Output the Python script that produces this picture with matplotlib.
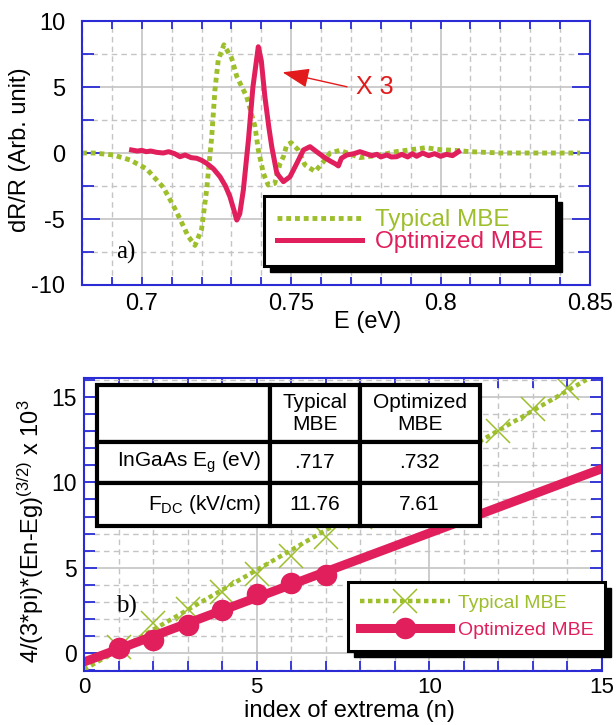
import matplotlib.pyplot as plt
import numpy as np
from matplotlib.patches import Rectangle
from matplotlib.transforms import IdentityTransform
from matplotlib.ticker import MultipleLocator

plt.rcParams['font.family'] = ['Liberation Sans', 'DejaVu Sans']
plt.rcParams['mathtext.fontset'] = 'custom'
plt.rcParams['mathtext.rm'] = 'Liberation Sans'
plt.rcParams['mathtext.it'] = 'Liberation Sans:italic'
plt.rcParams['font.size'] = 17
plt.rcParams['axes.unicode_minus'] = False

green = '#9dbf2c'
red = '#e01f5c'
blue = '#2b2bd6'

# panel a) : photoreflectance spectra
typ_E = [0.680, 0.684, 0.6905, 0.6961, 0.7016, 0.7072, 0.7106, 0.7128, 0.7155, 0.7178,
         0.7200, 0.7217, 0.7234, 0.7245, 0.7256, 0.7275, 0.7301, 0.7318, 0.7351, 0.7379,
         0.7390, 0.7407, 0.7423, 0.7445, 0.7463, 0.7474, 0.7485, 0.7500, 0.7524, 0.7546,
         0.7580, 0.7610, 0.7630, 0.7663, 0.7700, 0.7730, 0.7800, 0.7850, 0.7900, 0.7950,
         0.8000, 0.8050, 0.8100, 0.8200, 0.8300, 0.8400, 0.8467]
typ_R = [0.0, 0.0, -0.15, -0.53, -1.2, -2.6, -4.0, -5.0, -6.3, -7.0,
         -5.8, -2.8, 1.2, 4.8, 7.05, 8.2, 7.17, 5.8, 4.27, 2.0,
         0.23, -1.54, -2.42, -2.3, -0.78, -0.28, 0.6, 0.78, 0.23, -0.9,
         -1.4, -0.6, 0.0, 0.2, -0.1, -0.35, -0.15, 0.1, 0.25, 0.4,
         0.25, 0.2, 0.1, 0.0, 0.0, 0.0, 0.0]

opt_E = [0.6966, 0.6985, 0.7000, 0.7015, 0.7030, 0.7050, 0.7072, 0.7090, 0.7110, 0.7128,
         0.7145, 0.7165, 0.7184, 0.7200, 0.7217, 0.7240, 0.7262, 0.7280, 0.7295, 0.7308,
         0.7318, 0.7328, 0.7340, 0.7357, 0.7372, 0.7390, 0.7400, 0.7412, 0.7425, 0.7435,
         0.7452, 0.7474, 0.7496, 0.7519, 0.7541, 0.7563, 0.7585, 0.7608, 0.7630, 0.7650,
         0.7658, 0.7668, 0.7686, 0.7710, 0.7730, 0.7750, 0.7770, 0.7787, 0.7800, 0.7820,
         0.7835, 0.7853, 0.7870, 0.7890, 0.7905, 0.7920, 0.7940, 0.7960, 0.7980, 0.8000,
         0.8020, 0.8040, 0.8060]
opt_R = [0.23, 0.15, 0.2, 0.1, 0.15, 0.05, 0.0, 0.1, -0.05, -0.28,
         -0.15, -0.35, -0.4, -0.55, -0.78, -1.2, -1.8, -2.5, -3.3, -4.3,
         -5.08, -4.6, -2.8, 1.0, 5.0, 8.05, 7.0, 4.27, 2.0, 0.48,
         -1.54, -2.17, -1.8, -0.78, 0.23, 0.48, 0.1, -0.28, -0.6, -0.85,
         -0.98, -0.4, -0.15, -0.05, 0.1, -0.05, -0.2, -0.1, -0.3, -0.15,
         -0.3, -0.28, -0.1, -0.3, -0.05, -0.25, 0.0, -0.2, -0.05, -0.25,
         -0.1, -0.2, 0.1]

# panel b) : extrema analysis
typ_n = [1, 2, 3, 4, 5, 6, 7, 8, 9, 10, 12, 13, 14]
typ_v = [0.4, 1.75, 2.6, 3.6, 4.65, 5.7, 6.8, 8.0, 9.2, 10.4, 13.0, 14.3, 15.5]
typ_fit_n = [0, 14.55]
typ_fit_v = [-0.95, 16.0]

opt_n = [1, 2, 3, 4, 5, 6, 7]
opt_v = [0.3, 0.8, 1.65, 2.55, 3.45, 4.1, 4.6]
opt_fit_n = [0, 15]
opt_fit_v = [-0.5, 10.8]

table_rows = [['', 'Typical\nMBE', 'Optimized\nMBE'],
              ['InGaAs E$_\\mathregular{g}$ (eV)', '.717', '.732'],
              ['F$_\\mathregular{DC}$ (kV/cm)', '11.76', '7.61']]

fig = plt.figure(figsize=(6.16, 7.25), dpi=100)
ax1 = fig.add_axes([0.1331, 0.6069, 0.8247, 0.3641])
ax2 = fig.add_axes([0.1364, 0.0745, 0.8409, 0.4041])


def style(ax):
    for s in ax.spines.values():
        s.set_color(blue)
        s.set_linewidth(1.5)
    ax.tick_params(which='both', direction='in', top=True, right=True,
                   color=blue, width=1.3)
    ax.grid(which='major', color='#c4c4c4', lw=1.2)
    ax.grid(which='minor', color='#c4c4c4', lw=1.0, ls=(0, (4, 3)))
    ax.set_axisbelow(True)


def shadow(ax, leg, off=6):
    bb = leg.get_frame().get_window_extent()
    r = Rectangle((bb.x0 + off, bb.y0 - off), bb.width, bb.height,
                  transform=IdentityTransform(), color='black',
                  zorder=4.5, clip_on=False)
    ax.add_artist(r)


# ---- a)
style(ax1)
ax1.plot(typ_E, typ_R, color=green, lw=3.5, ls=(0, (1, 0.8)), label='Typical MBE')
ax1.plot(opt_E, opt_R, color=red, lw=3.6, label='Optimized MBE')
ax1.set_xlim(0.68, 0.85)
ax1.set_ylim(-10, 10)
ax1.set_xticks([0.7, 0.75, 0.8, 0.85], ['0.7', '0.75', '0.8', '0.85'])
ax1.xaxis.set_minor_locator(MultipleLocator(0.01))
ax1.set_yticks([-10, -5, 0, 5, 10])
ax1.yaxis.set_minor_locator(MultipleLocator(2.5))
ax1.tick_params(axis='x', which='both', length=5.8, pad=6)
ax1.tick_params(axis='y', which='major', length=13, pad=12)
ax1.tick_params(axis='y', which='minor', length=8.6)
ax1.set_xlabel('E (eV)')
ax1.set_ylabel('dR/R (Arb. unit)')
ax1.xaxis.set_label_coords(0.563, -0.139)
ax1.xaxis.label.set_va('center')
ax1.yaxis.set_label_coords(-0.1228, 0.511)
ax1.yaxis.label.set_va('center')
ax1.text(0.6914, -7.5, 'a)', family='Liberation Serif', fontsize=18, va='center')
ax1.annotate('', xy=(0.7462, 6.16), xytext=(0.7696, 4.97),
             arrowprops=dict(arrowstyle='-|>,head_length=1.1,head_width=0.4',
                             color='#e31a1c', lw=1, mutation_scale=15))
ax1.text(0.7716, 5.0, 'X 3', color='#e31a1c', fontsize=18, va='center')
leg1 = ax1.legend(loc='center', bbox_to_anchor=(0.6457, 0.2045), fancybox=False,
                  edgecolor='black', framealpha=1, handlelength=3.5,
                  labelcolor='linecolor', fontsize=17.5, borderpad=0.55,
                  labelspacing=0.0, handletextpad=0.5)
leg1.get_frame().set_linewidth(2.2)

# ---- b)
style(ax2)
ax2.plot(typ_fit_n, typ_fit_v, color=green, lw=3.2, ls=(0, (1, 0.8)))
ax2.plot(typ_n, typ_v, ls='none', marker='x', ms=17, mew=1.1, color=green)
ax2.plot(opt_fit_n, opt_fit_v, color=red, lw=6.5)
ax2.plot(opt_n, opt_v, ls='none', marker='o', ms=14.5, color=red)
ax2.set_xlim(0, 15)
ax2.set_ylim(-1.03, 16.1)
ax2.set_xticks([0, 5, 10, 15])
ax2.set_yticks([0, 5, 10, 15])
ax2.xaxis.set_minor_locator(MultipleLocator(1))
ax2.yaxis.set_minor_locator(MultipleLocator(1))
ax2.tick_params(axis='x', which='both', length=7, pad=4, labelsize=16)
ax2.tick_params(axis='y', which='major', length=9, pad=5, labelsize=16.5)
ax2.tick_params(axis='y', which='minor', length=8)
ax2.set_xlabel('index of extrema (n)')
ax2.set_ylabel('4/(3*pi)*(En-Eg)$^\\mathregular{(3/2)}$ x 10$^\\mathregular{3}$')
ax2.xaxis.set_label_coords(0.513, -0.137)
ax2.xaxis.label.set_va('center')
ax2.yaxis.set_label_coords(-0.1027, 0.478)
ax2.yaxis.label.set_va('center')
ax2.text(0.93, 2.72, 'b)', family='Liberation Serif', fontsize=18, va='center')

tab = ax2.table(cellText=table_rows, colWidths=[0.333, 0.173, 0.232],
                cellLoc='center', bbox=[0.026, 0.495, 0.738, 0.481])
tab.set_zorder(6)
tab.auto_set_font_size(False)
tab.set_fontsize(15)
row_h = [0.404, 0.291, 0.305]
for (r, c), cell in tab.get_celld().items():
    cell.set_linewidth(3)
    cell.set_edgecolor('black')
    cell.set_facecolor('white')
    cell.set_height(row_h[r])
    if c == 0 and r > 0:
        cell.get_text().set_ha('right')
        cell.PAD = 0.05

h_typ, = ax2.plot([], [], color=green, lw=3.2, ls=(0, (1, 0.8)),
                  marker='x', ms=17, mew=1.1)
h_opt, = ax2.plot([], [], color=red, lw=6.5, marker='o', ms=14.5)
leg2 = ax2.legend([h_typ, h_opt], ['Typical MBE', 'Optimized MBE'],
                  loc='center', bbox_to_anchor=(0.758, 0.186), fancybox=False,
                  edgecolor='black', framealpha=1, handlelength=4.65,
                  labelcolor='linecolor', fontsize=14, borderpad=0.6,
                  labelspacing=0.5, handletextpad=0.4, numpoints=1)
leg2.get_frame().set_linewidth(2.2)

fig.canvas.draw()
shadow(ax1, leg1)
shadow(ax2, leg2)

fig.savefig('out.png', dpi=100)
